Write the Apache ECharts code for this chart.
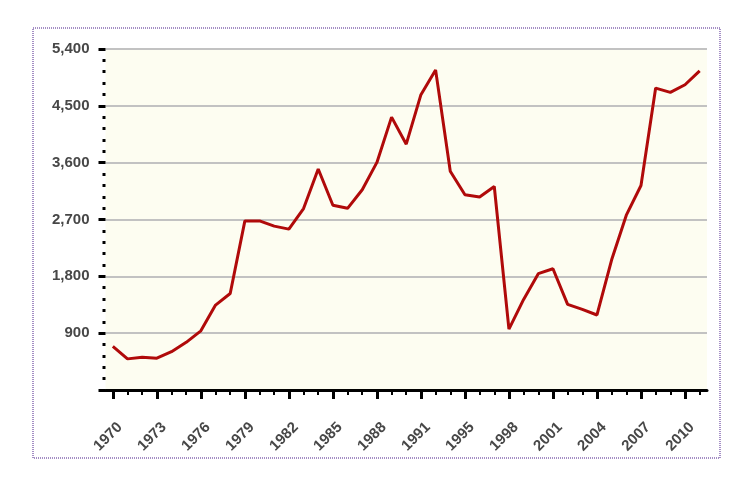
<!DOCTYPE html>
<html>
<head>
    <meta charset="utf-8" />
    <title>Line</title>
    <style>
        html, body { margin: 0; padding: 0; background: #fff; }
    </style>
</head>
<body>
    <div id="main" style="width: 743px;height:485px;"></div>
    <script src="https://cdn.jsdelivr.net/npm/echarts@6/dist/echarts.min.js" type="text/javascript"></script>
    <script type="text/javascript">
        // years on the x axis (one year is skipped in the source between 1991 and 1995)
        var years = ['1970', '1971', '1972', '1973', '1974', '1975', '1976', '1977', '1978', '1979',
            '1980', '1981', '1982', '1983', '1984', '1985', '1986', '1987', '1988', '1989',
            '1990', '1991', '1992', '1993', '1995', '1996', '1997', '1998', '1999', '2000',
            '2001', '2002', '2003', '2004', '2005', '2006', '2007', '2008', '2009', '2010', '2011'];

        var values = [692, 493, 519, 504, 607, 755, 937, 1345, 1528, 2678,
            2678, 2595, 2548, 2873, 3500, 2925, 2877, 3171, 3604, 4321,
            3893, 4677, 5069, 3463, 3092, 3055, 3223, 963, 1434, 1842,
            1920, 1356, 1277, 1188, 2062, 2768, 3238, 4781, 4713, 4834, 5054];

        var yMin = 0;
        var yMax = 5400;
        var yStep = 900;

        var labelFont = 'Liberation Sans, Arial, sans-serif';
        var labelColor = '#474747';

        var myChart = echarts.init(document.getElementById('main'));

        var option = {
            animation: false,
            backgroundColor: '#fff',
            graphic: [
                {
                    type: 'rect',
                    shape: { x: 33, y: 28, width: 687, height: 430 },
                    style: { fill: 'none', stroke: '#4b1f8a', lineWidth: 1, lineDash: [1, 1] },
                    silent: true
                }
            ],
            grid: {
                left: 105.5,
                right: 36,
                top: 49,
                bottom: 95,
                show: true,
                backgroundColor: '#fdfdf1',
                borderWidth: 0
            },
            xAxis: [
                {
                    type: 'category',
                    data: years,
                    boundaryGap: true,
                    position: 'bottom',
                    axisLine: { show: true, lineStyle: { color: '#000', width: 3 } },
                    axisTick: {
                        show: true,
                        alignWithLabel: true,
                        interval: 2,
                        length: 9,
                        lineStyle: { color: '#000', width: 3 }
                    },
                    axisLabel: {
                        interval: 2,
                        rotate: 45,
                        margin: 42,
                        padding: [0, -10, 0, 0],
                        fontSize: 15,
                        fontWeight: 'bold',
                        fontFamily: labelFont,
                        color: labelColor
                    },
                    splitLine: { show: false }
                },
                {
                    type: 'category',
                    data: years,
                    boundaryGap: true,
                    position: 'bottom',
                    axisLine: { show: false },
                    axisTick: {
                        show: true,
                        alignWithLabel: true,
                        interval: 0,
                        length: 5,
                        lineStyle: { color: '#000', width: 2 }
                    },
                    axisLabel: { show: false },
                    splitLine: { show: false }
                }
            ],
            yAxis: {
                type: 'value',
                min: yMin,
                max: yMax,
                interval: yStep,
                axisLine: { show: false },
                axisTick: {
                    show: true,
                    length: 7,
                    lineStyle: { color: '#000', width: 3 }
                },
                minorTick: {
                    show: true,
                    splitNumber: 5,
                    length: 3,
                    lineStyle: { color: '#000', width: 3 }
                },
                axisLabel: {
                    margin: 16,
                    fontSize: 15,
                    fontWeight: 'bold',
                    fontFamily: labelFont,
                    color: labelColor,
                    formatter: function (v) {
                        return v === 0 ? '' : v.toLocaleString('en-US');
                    }
                },
                splitLine: {
                    show: true,
                    lineStyle: { color: '#c2c2c2', width: 2 }
                }
            },
            series: [
                {
                    name: 'Value',
                    type: 'line',
                    data: values,
                    symbol: 'none',
                    lineStyle: { color: '#b00a0a', width: 3 },
                    z: 5
                }
            ]
        };

        myChart.setOption(option);
    </script>
</body>
</html>
